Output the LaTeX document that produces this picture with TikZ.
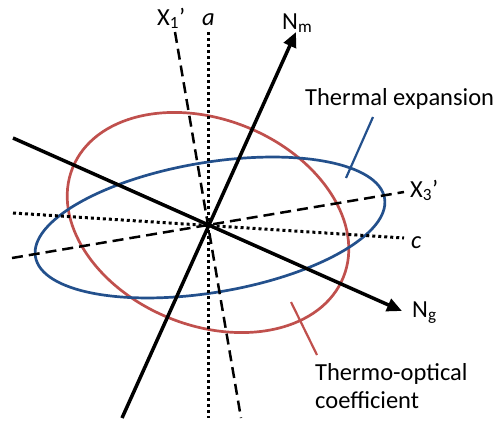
\documentclass[tikz,border=0pt]{standalone}
\usepackage{fontspec}
\setmainfont{Carlito}
\usetikzlibrary{arrows.meta}
\definecolor{ellblue}{RGB}{35,80,140}
\definecolor{ellred}{RGB}{192,80,77}
\begin{document}
\begin{tikzpicture}[x=1pt,y=-1pt,
  axisline/.style={line width=3.5pt,-{Triangle[length=15pt,width=13pt]}},
  dashaxis/.style={line width=2.5pt,dash pattern=on 11pt off 6pt},
  dotaxis/.style={line width=3pt,dash pattern=on 3pt off 3pt},
  ellipseline/.style={line width=2.7pt},
  leader/.style={line width=2.2pt},
  lab/.style={font=\fontsize{24.5}{28}\selectfont,inner sep=0pt,anchor=base west}]
\useasboundingbox (0,0) rectangle (495,423);
% ellipses
\coordinate (Cr) at (208,222.5);
\coordinate (Cb) at (210,227.5);
\draw[ellred,ellipseline,rotate around={-22:(Cr)}] (Cr) ellipse [x radius=146pt,y radius=103pt];
\draw[ellblue,ellipseline,rotate around={9.5:(Cb)}] (Cb) ellipse [x radius=177pt,y radius=65pt];
% axes end points
\coordinate (O) at (208,225);
\coordinate (nm0) at (122,418); \coordinate (nm1) at (296,32);
\coordinate (ng0) at (13,138);  \coordinate (ng1) at (402,311);
\coordinate (x1a) at (175,32);  \coordinate (x1b) at (241,418);
\coordinate (aa) at (208,32);   \coordinate (ab) at (208,418);
\coordinate (x3a) at (12,258);  \coordinate (x3b) at (404,192);
\coordinate (ca) at (13,213);   \coordinate (cb) at (404,238);
% axes
\draw[dotaxis] (aa) -- (ab);
\draw[dotaxis] (ca) -- (cb);
\draw[dashaxis] (x1a) -- (x1b);
\draw[dashaxis] (x3a) -- (x3b);
\draw[axisline] (nm0) -- (nm1);
\draw[axisline] (ng0) -- (ng1);
% labels
\node[lab] (lnm) at (282,29) {N\textsubscript{m}};
\node[lab] (lx1) at (157,25) {X\textsubscript{1}’};
\node[lab] (la) at (202,25) {\itshape a};
\node[lab] (lx3) at (410,197) {X\textsubscript{3}’};
\node[lab] (lc) at (411,248) {\itshape c};
\node[lab] (lng) at (412,317) {N\textsubscript{g}};
\node[lab] (lte) at (305,105) {Thermal expansion};
\node[lab] (lto1) at (315,380) {Thermo-optical};
\node[lab] (lto2) at (315,408) {coefficient};
% leaders
\coordinate (tb0) at (373,117); \coordinate (tb1) at (346,178);
\coordinate (tr0) at (291,302); \coordinate (tr1) at (317,355);
\draw[ellblue,leader] (tb0) -- (tb1);
\draw[ellred,leader] (tr0) -- (tr1);
\end{tikzpicture}
\end{document}
